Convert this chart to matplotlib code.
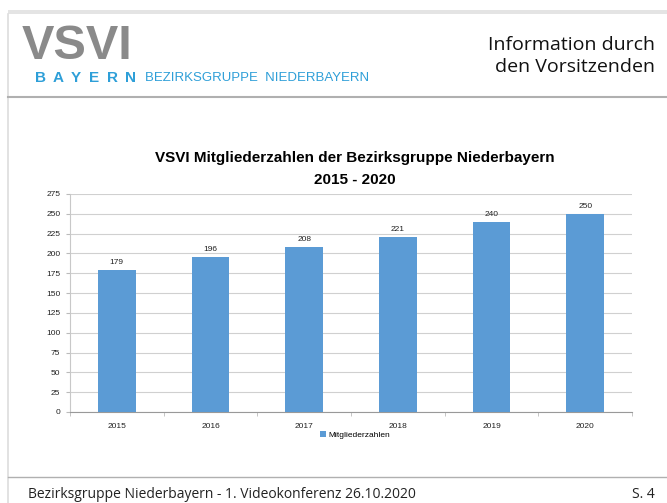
import matplotlib
matplotlib.use("Agg")
import matplotlib.pyplot as plt
from matplotlib.patches import Rectangle
from matplotlib.lines import Line2D

years = ["2015", "2016", "2017", "2018", "2019", "2020"]
members = [179, 196, 208, 221, 240, 250]
yticks = [0, 25, 50, 75, 100, 125, 150, 175, 200, 225, 250, 275]

W, H = 667, 503
fig = plt.figure(figsize=(W / 100, H / 100), dpi=100)
fig.patch.set_facecolor("white")

def fx(x):
    return x / W

def fy(y):
    return 1 - y / H

# slide frame
fig.add_artist(Rectangle((fx(8), fy(14)), fx(W - 8), 4 / H, transform=fig.transFigure,
                         facecolor="#e4e4e4", edgecolor="none"))
fig.add_artist(Line2D([fx(8), fx(8)], [fy(14), fy(503)], transform=fig.transFigure,
                      color="#dddddd", lw=1.2))
fig.add_artist(Line2D([fx(8), 1], [fy(97), fy(97)], transform=fig.transFigure,
                      color="#b0b0b0", lw=1.5))
fig.add_artist(Line2D([fx(8), 1], [fy(477), fy(477)], transform=fig.transFigure,
                      color="#b0b0b0", lw=1.0))

# header logo
fig.text(fx(22), fy(46), "VSVI", fontsize=35, fontweight="bold", color="#8a8a8a",
         family="Liberation Sans", va="center", ha="left")
for i, ch in enumerate("BAYERN"):
    fig.text(fx(40 + i * 18), fy(78), ch, fontsize=11, fontweight="bold", color="#2e9fd8",
             family="Liberation Sans", va="center", ha="center")
fig.text(fx(145), fy(78), "BEZIRKSGRUPPE  NIEDERBAYERN", fontsize=9.5, color="#2e9fd8",
         family="Liberation Sans", va="center", ha="left")
fig.text(fx(655), fy(45), "Information durch", fontsize=14, color="#111111",
         family="Open Sans", va="center", ha="right")
fig.text(fx(655), fy(67), "den Vorsitzenden", fontsize=14, color="#111111",
         family="Open Sans", va="center", ha="right")

# footer
fig.text(fx(28), fy(495), "Bezirksgruppe Niederbayern - 1. Videokonferenz 26.10.2020",
         fontsize=10, color="#222222", family="Open Sans", va="center", ha="left")
fig.text(fx(655), fy(495), "S. 4", fontsize=10, color="#222222", family="Open Sans",
         va="center", ha="right")

# chart title
fig.text(fx(355), fy(158), "VSVI Mitgliederzahlen der Bezirksgruppe Niederbayern",
         fontsize=11, fontweight="bold", color="black", family="Liberation Sans",
         va="center", ha="center")
fig.text(fx(355), fy(180), "2015 - 2020", fontsize=11, fontweight="bold", color="black",
         family="Liberation Sans", va="center", ha="center")

ax = fig.add_axes([fx(70), fy(412), fx(632) - fx(70), fy(194) - fy(412)])
x = list(range(len(years)))
bars = ax.bar(x, members, width=0.4, color="#5b9bd5", zorder=3, label="Mitgliederzahlen")
for xi, v in zip(x, members):
    ax.text(xi, v + 5, str(v), ha="center", va="bottom", fontsize=6, color="#222222",
            family="Liberation Sans")

ax.set_xlim(-0.5, len(years) - 0.5)
ax.set_ylim(0, 275)
ax.set_yticks(yticks)
ax.set_yticklabels([str(t) for t in yticks], fontsize=6, family="Liberation Sans", color="#222222")
ax.set_xticks(x)
ax.set_xticklabels(years, fontsize=6, family="Liberation Sans", color="#222222")
ax.tick_params(axis="x", length=0, pad=8)
ax.tick_params(axis="y", length=3, color="#bbbbbb", pad=4)
ax.set_xticks([i - 0.5 for i in range(len(years) + 1)], minor=True)
ax.tick_params(axis="x", which="minor", length=3, color="#bbbbbb")
ax.grid(axis="y", color="#d0d0d0", lw=0.8, zorder=0)
for s in ["top", "right"]:
    ax.spines[s].set_visible(False)
ax.spines["left"].set_color("#c8c8c8")
ax.spines["bottom"].set_color("#999999")
ax.spines["left"].set_linewidth(0.8)
ax.spines["bottom"].set_linewidth(0.8)

leg = ax.legend(loc="upper center", bbox_to_anchor=(fx(355 - 70) / (fx(632) - fx(70)), -0.055),
                frameon=False, handlelength=0.7, handleheight=0.7,
                handletextpad=0.3, prop={"family": "Liberation Sans", "size": 6})

fig.savefig("out.png", dpi=100, facecolor="white")
